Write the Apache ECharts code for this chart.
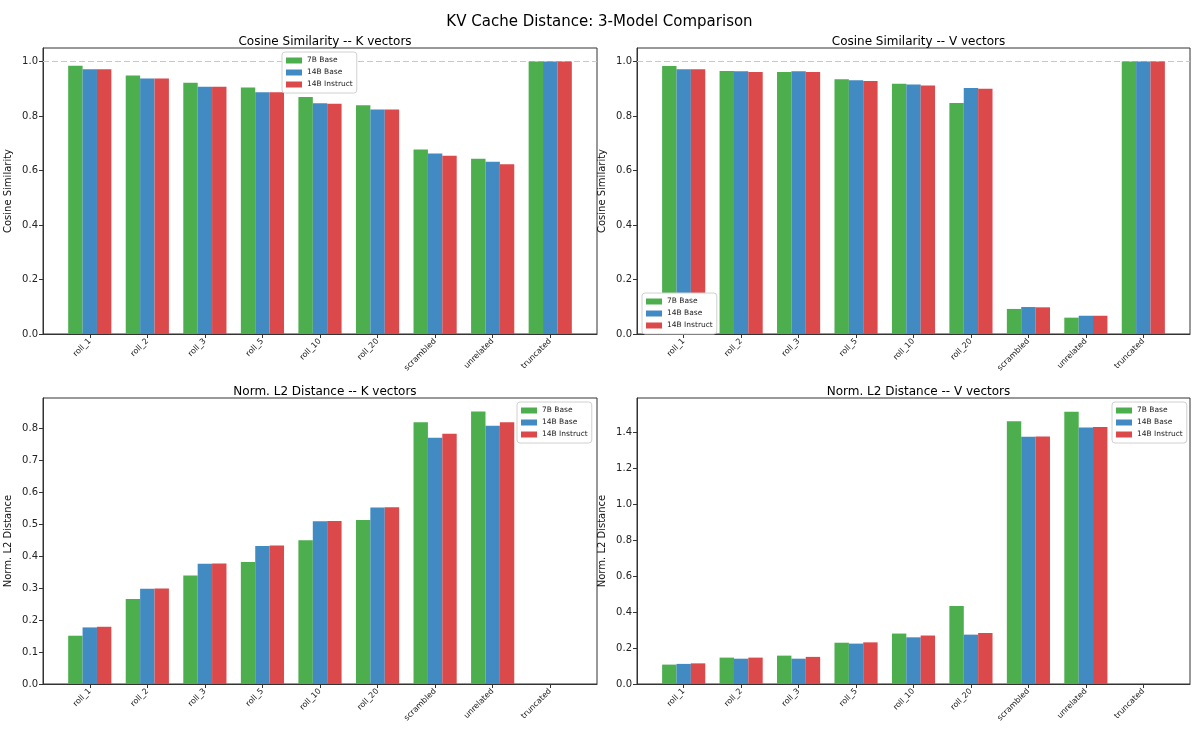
<!DOCTYPE html>
<html>
<head>
<meta charset="utf-8">
<script src="https://cdn.jsdelivr.net/npm/echarts@6/dist/echarts.min.js"></script>
<style>html,body{margin:0;padding:0;background:#fff}#c{width:1199px;height:733px}</style>
</head>
<body>
<div id="c"></div>
<script>
const categories = ['roll_1','roll_2','roll_3','roll_5','roll_10','roll_20','scrambled','unrelated','truncated'];
const models = ['7B Base','14B Base','14B Instruct'];
const colors = ['#4CAE4D','#428AC2','#DC494B'];

const cosK_7B   = [0.985,0.949,0.922,0.905,0.870,0.840,0.677,0.643,1.0];
const cosK_14B  = [0.972,0.938,0.908,0.888,0.847,0.824,0.663,0.632,1.0];
const cosK_14BI = [0.972,0.938,0.908,0.888,0.845,0.824,0.654,0.623,1.0];

const cosV_7B   = [0.984,0.966,0.962,0.935,0.919,0.848,0.092,0.060,1.0];
const cosV_14B  = [0.972,0.965,0.965,0.932,0.916,0.903,0.099,0.067,1.0];
const cosV_14BI = [0.972,0.962,0.962,0.929,0.912,0.900,0.098,0.067,1.0];

const l2K_7B    = [0.151,0.266,0.339,0.382,0.450,0.513,0.819,0.852,0];
const l2K_14B   = [0.177,0.298,0.376,0.432,0.509,0.552,0.770,0.808,0];
const l2K_14BI  = [0.179,0.299,0.377,0.433,0.510,0.553,0.783,0.819,0];

const l2V_7B    = [0.108,0.147,0.158,0.230,0.281,0.435,1.463,1.517,0];
const l2V_14B   = [0.112,0.141,0.141,0.225,0.260,0.275,1.377,1.429,0];
const l2V_14BI  = [0.115,0.147,0.151,0.232,0.270,0.284,1.379,1.431,0];

const cosTicks = [0,0.2,0.4,0.6,0.8,1.0];
const l2KTicks = [0,0.1,0.2,0.3,0.4,0.5,0.6,0.7,0.8];
const l2VTicks = [0,0.2,0.4,0.6,0.8,1.0,1.2,1.4];

const panels = [
  {title:'Cosine Similarity -- K vectors', ylabel:'Cosine Similarity', data:[cosK_7B,cosK_14B,cosK_14BI], max:1.05, ticks:cosTicks, ref:true,
   grid:{left:43,top:48,width:554,height:286}, legend:{left:282,top:52}},
  {title:'Cosine Similarity -- V vectors', ylabel:'Cosine Similarity', data:[cosV_7B,cosV_14B,cosV_14BI], max:1.05, ticks:cosTicks, ref:true,
   grid:{left:637,top:48,width:553,height:286}, legend:{left:642,top:293}},
  {title:'Norm. L2 Distance -- K vectors', ylabel:'Norm. L2 Distance', data:[l2K_7B,l2K_14B,l2K_14BI], max:0.8946, ticks:l2KTicks, ref:false,
   grid:{left:43,top:398,width:554,height:286}, legend:{left:517,top:402}},
  {title:'Norm. L2 Distance -- V vectors', ylabel:'Norm. L2 Distance', data:[l2V_7B,l2V_14B,l2V_14BI], max:1.593, ticks:l2VTicks, ref:false,
   grid:{left:637,top:398,width:553,height:286}, legend:{left:1112,top:402}}
];

const font = 'DejaVu Sans';
const xMin = -0.8125, xMax = 8.8125;
const offsets = [-0.25, 0, 0.25];
const catIdx = categories.map((c,i)=>i);

const option = {
  animation:false,
  backgroundColor:'#fff',
  textStyle:{fontFamily:font},
  title:[{text:'KV Cache Distance: 3-Model Comparison', left:'center', top:10,
          textStyle:{fontFamily:font,fontSize:15,fontWeight:'normal',color:'#000'}}],
  grid:[], xAxis:[], yAxis:[], series:[], legend:[]
};

panels.forEach((p,gi)=>{
  option.grid.push(Object.assign({show:true,borderColor:'#333',borderWidth:1,backgroundColor:'transparent'},p.grid));
  option.title.push({text:p.title, left:p.grid.left+p.grid.width/2, top:p.grid.top-17, textAlign:'center',
    textStyle:{fontFamily:font,fontSize:12,fontWeight:'normal',color:'#000'}});
  option.xAxis.push({type:'value', gridIndex:gi, min:xMin, max:xMax,
    axisLine:{show:true,onZero:false,lineStyle:{color:'#333'}},
    axisTick:{show:true,length:4,customValues:catIdx,lineStyle:{color:'#333'}},
    axisLabel:{customValues:catIdx,rotate:45,fontSize:8,color:'#222',fontFamily:font,margin:6,
      formatter:v=>categories[Math.round(v)]},
    splitLine:{show:false}});
  option.yAxis.push({type:'value', gridIndex:gi, min:0, max:p.max,
    name:p.ylabel, nameLocation:'middle', nameGap:30, nameTextStyle:{fontFamily:font,fontSize:10,color:'#111'},
    axisLine:{show:true,onZero:false,lineStyle:{color:'#333'}},
    axisTick:{show:true,length:4,customValues:p.ticks,lineStyle:{color:'#333'}},
    axisLabel:{customValues:p.ticks,fontSize:10,color:'#222',fontFamily:font,margin:5,formatter:v=>v.toFixed(1)},
    splitLine:{show:false}});
  option.legend.push({data:models, orient:'vertical', left:p.legend.left, top:p.legend.top, z:20,
    itemWidth:16, itemHeight:6, itemGap:3, icon:'rect',
    textStyle:{fontFamily:font,fontSize:7.5,color:'#222',lineHeight:9},
    backgroundColor:'#ffffff', borderColor:'#d0d0d0', borderWidth:1, borderRadius:3, padding:[4,4,4,4]});
  p.data.forEach((vals,si)=>{
    const s = {type:'bar', name:models[si], xAxisIndex:gi, yAxisIndex:gi,
      barWidth:14.4, barGap:'-100%', itemStyle:{color:colors[si]},
      data:vals.map((v,i)=>[i+offsets[si], v])};
    if (p.ref && si===0) {
      s.markLine = {silent:true, symbol:'none', label:{show:false}, z:1,
        lineStyle:{type:[6,3],color:'#c8c8c8',width:1}, data:[{yAxis:1.0}]};
    }
    option.series.push(s);
  });
});

const chart = echarts.init(document.getElementById('c'), null, {renderer:'canvas'});
chart.setOption(option);
</script>
</body>
</html>
